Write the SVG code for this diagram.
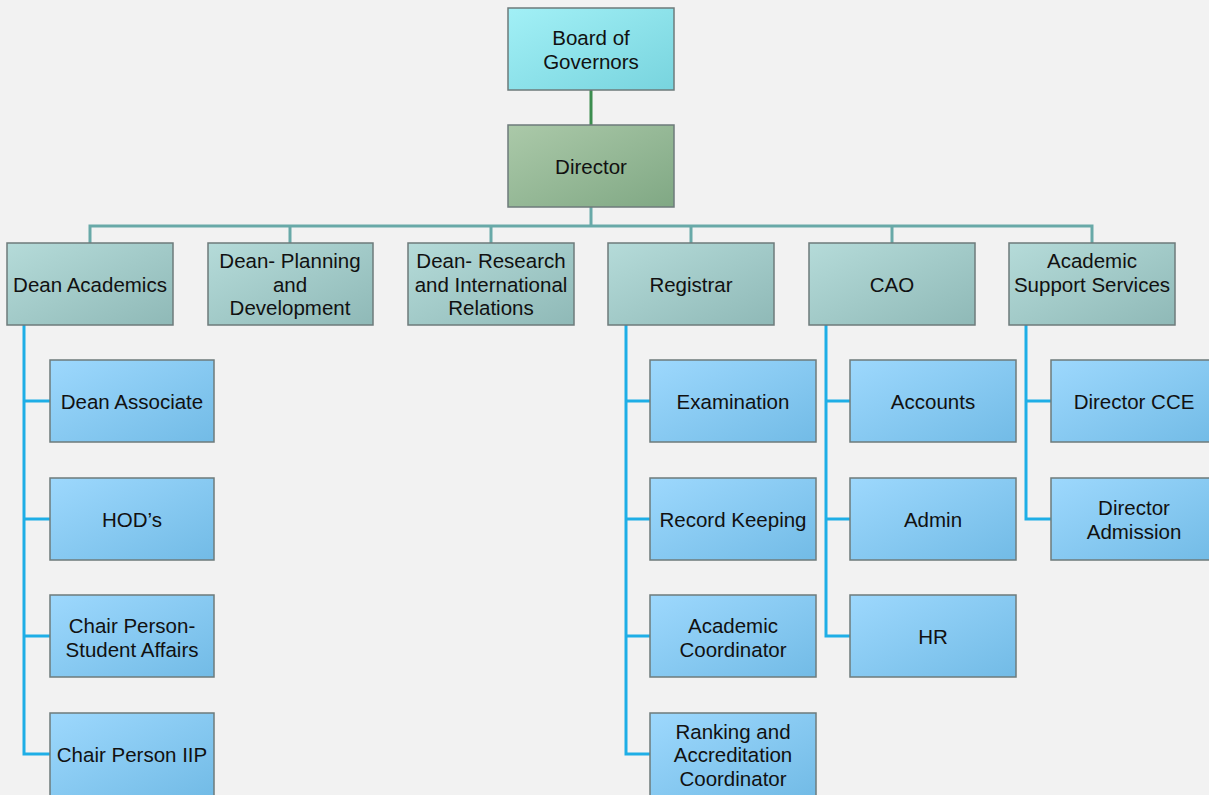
<svg xmlns="http://www.w3.org/2000/svg" width="1209" height="795" viewBox="0 0 1209 795">
<defs>
<linearGradient id="gCyan" x1="0" y1="0" x2="1" y2="1"><stop offset="0" stop-color="#a2f0f6"/><stop offset="1" stop-color="#78d4de"/></linearGradient>
<linearGradient id="gGreen" x1="0" y1="0" x2="1" y2="1"><stop offset="0" stop-color="#abc9a9"/><stop offset="1" stop-color="#80a884"/></linearGradient>
<linearGradient id="gTeal" x1="0" y1="0" x2="1" y2="1"><stop offset="0" stop-color="#b5dbd9"/><stop offset="1" stop-color="#8fb9b7"/></linearGradient>
<linearGradient id="gBlue" x1="0" y1="0" x2="1" y2="1"><stop offset="0" stop-color="#9dd8fd"/><stop offset="1" stop-color="#72bbe6"/></linearGradient>
</defs>
<style>
.box{stroke:#6e7b7b;stroke-width:1.5}
.t{font-family:"Liberation Sans",Arial,sans-serif;font-size:20.5px;fill:#111;text-anchor:middle;dominant-baseline:central}
.teal{stroke:#68a9a8;stroke-width:3;fill:none}
.blue{stroke:#1eaee6;stroke-width:3;fill:none}
.green{stroke:#3c8d4f;stroke-width:3;fill:none}
</style>
<rect width="1209" height="795" fill="#f2f2f2"/>
<g id="connectors">
<line class="green" x1="591" y1="90" x2="591" y2="125"/>
<path class="teal" d="M591 207V226M90 243V226H1092V243M290 226V243M491 226V243M691 226V243M892 226V243"/>
<path class="blue" d="M24 325V754H50M24 401H50M24 519H50M24 636H50"/>
<path class="blue" d="M626 325V754H650M626 401H650M626 519H650M626 636H650"/>
<path class="blue" d="M826 325V636H850M826 401H850M826 519H850"/>
<path class="blue" d="M1026 325V519H1051M1026 401H1051"/>
</g>
<g id="board"><rect class="box" x="508" y="8" width="166" height="82" fill="url(#gCyan)"/><text class="t" x="591" y="37">Board of</text><text class="t" x="591" y="61">Governors</text></g>
<g id="director"><rect class="box" x="508" y="125" width="166" height="82" fill="url(#gGreen)"/><text class="t" x="591" y="166">Director</text></g>
<g id="dean-academics"><rect class="box" x="7" y="243" width="166" height="82" fill="url(#gTeal)"/><text class="t" x="90" y="284">Dean Academics</text></g>
<g id="dean-planning"><rect class="box" x="208" y="243" width="165" height="82" fill="url(#gTeal)"/><text class="t" x="290" y="260">Dean- Planning</text><text class="t" x="290" y="284">and</text><text class="t" x="290" y="307">Development</text></g>
<g id="dean-research"><rect class="box" x="408" y="243" width="166" height="82" fill="url(#gTeal)"/><text class="t" x="491" y="260">Dean- Research</text><text class="t" x="491" y="284">and International</text><text class="t" x="491" y="307">Relations</text></g>
<g id="registrar"><rect class="box" x="608" y="243" width="166" height="82" fill="url(#gTeal)"/><text class="t" x="691" y="284">Registrar</text></g>
<g id="cao"><rect class="box" x="809" y="243" width="166" height="82" fill="url(#gTeal)"/><text class="t" x="892" y="284">CAO</text></g>
<g id="academic-support"><rect class="box" x="1009" y="243" width="166" height="82" fill="url(#gTeal)"/><text class="t" x="1092" y="260">Academic</text><text class="t" x="1092" y="284">Support Services</text></g>
<g id="dean-associate"><rect class="box" x="50" y="360" width="164" height="82" fill="url(#gBlue)"/><text class="t" x="132" y="401">Dean Associate</text></g>
<g id="hods"><rect class="box" x="50" y="478" width="164" height="82" fill="url(#gBlue)"/><text class="t" x="132" y="519">HOD’s</text></g>
<g id="chair-student"><rect class="box" x="50" y="595" width="164" height="82" fill="url(#gBlue)"/><text class="t" x="132" y="625">Chair Person-</text><text class="t" x="132" y="649">Student Affairs</text></g>
<g id="chair-iip"><rect class="box" x="50" y="713" width="164" height="84" fill="url(#gBlue)"/><text class="t" x="132" y="754">Chair Person IIP</text></g>
<g id="examination"><rect class="box" x="650" y="360" width="166" height="82" fill="url(#gBlue)"/><text class="t" x="733" y="401">Examination</text></g>
<g id="record-keeping"><rect class="box" x="650" y="478" width="166" height="82" fill="url(#gBlue)"/><text class="t" x="733" y="519">Record Keeping</text></g>
<g id="academic-coordinator"><rect class="box" x="650" y="595" width="166" height="82" fill="url(#gBlue)"/><text class="t" x="733" y="625">Academic</text><text class="t" x="733" y="649">Coordinator</text></g>
<g id="ranking"><rect class="box" x="650" y="713" width="166" height="84" fill="url(#gBlue)"/><text class="t" x="733" y="731">Ranking and</text><text class="t" x="733" y="754">Accreditation</text><text class="t" x="733" y="778">Coordinator</text></g>
<g id="accounts"><rect class="box" x="850" y="360" width="166" height="82" fill="url(#gBlue)"/><text class="t" x="933" y="401">Accounts</text></g>
<g id="admin"><rect class="box" x="850" y="478" width="166" height="82" fill="url(#gBlue)"/><text class="t" x="933" y="519">Admin</text></g>
<g id="hr"><rect class="box" x="850" y="595" width="166" height="82" fill="url(#gBlue)"/><text class="t" x="933" y="636">HR</text></g>
<g id="director-cce"><rect class="box" x="1051" y="360" width="166" height="82" fill="url(#gBlue)"/><text class="t" x="1134" y="401">Director CCE</text></g>
<g id="director-admission"><rect class="box" x="1051" y="478" width="166" height="82" fill="url(#gBlue)"/><text class="t" x="1134" y="507">Director</text><text class="t" x="1134" y="531">Admission</text></g>
</svg>
